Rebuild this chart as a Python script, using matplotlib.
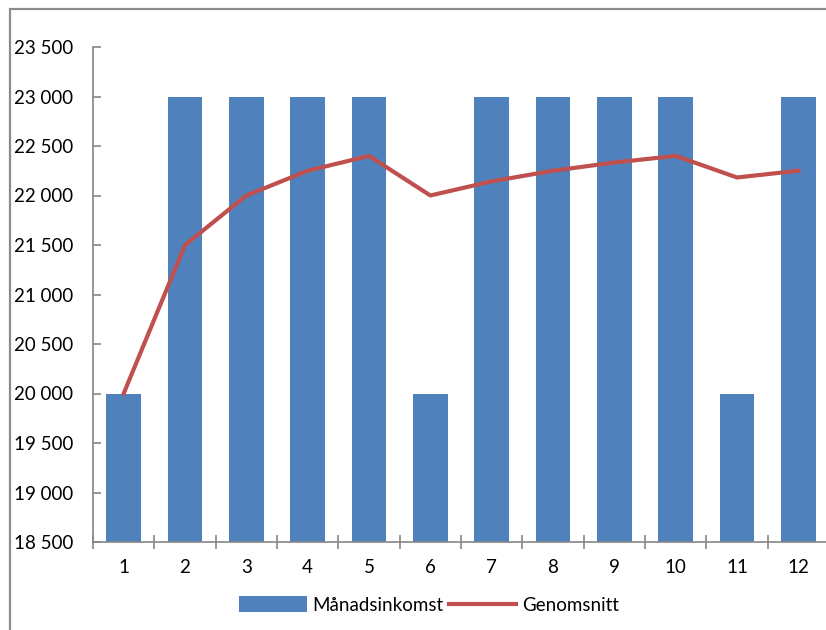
import matplotlib.pyplot as plt
from matplotlib.patches import Rectangle
import numpy as np

plt.rcParams["font.family"] = ["Lato", "DejaVu Sans"]

months = [str(m) for m in range(1, 13)]
income = [20000, 23000, 23000, 23000, 23000, 20000,
          23000, 23000, 23000, 23000, 20000, 23000]
average = [20000, 21500, 22000, 22250, 22400, 22000,
           22143, 22250, 22333, 22400, 22182, 22250]
yticks = [18500, 19000, 19500, 20000, 20500, 21000,
          21500, 22000, 22500, 23000, 23500]

blue = "#4F81BD"
red = "#C0504D"
axis_grey = "#868686"

fig = plt.figure(figsize=(8.26, 6.3), dpi=100)

# chart area frame
fig.patches.append(Rectangle((10 / 826, -0.05), 1.1, 1 - 9 / 630 + 0.05,
                             transform=fig.transFigure, fill=False,
                             edgecolor="#8C8C8C", linewidth=1.6))

ax = fig.add_axes([93 / 826, 1 - 542 / 630, 736 / 826, 495 / 630])
x = np.arange(len(months))
bars = ax.bar(x, income, width=0.57, color=blue, label="Månadsinkomst", zorder=2)
line, = ax.plot(x, average, color=red, linewidth=3, label="Genomsnitt", zorder=3)

ax.set_ylim(18500, 23500)
ax.set_xlim(-0.5, len(months) - 0.5)
ax.set_yticks(yticks)
ax.set_yticklabels([f"{v:,}".replace(",", " ") for v in yticks])
ax.set_xticks(x)
ax.set_xticklabels(months)
ax.set_xticks(np.arange(-0.5, len(months), 1), minor=True)

for side in ("top", "right"):
    ax.spines[side].set_visible(False)
for side in ("left", "bottom"):
    ax.spines[side].set_color(axis_grey)
    ax.spines[side].set_linewidth(1.2)

ax.tick_params(axis="y", direction="in", length=6, color=axis_grey,
               width=1.2, labelsize=13.5, pad=14)
ax.tick_params(axis="x", which="major", length=0, labelsize=13.5, pad=12)
ax.tick_params(axis="x", which="minor", direction="inout", length=10,
               color=axis_grey, width=1.2)

ax.legend([bars, line], ["Månadsinkomst", "Genomsnitt"], loc="center",
          bbox_to_anchor=((429 - 93) / 736, (542 - 605) / 495),
          ncol=2, frameon=False, fontsize=13.5, handlelength=3.6,
          handleheight=0.9, handletextpad=0.3, columnspacing=0.3)

fig.savefig("out.png", dpi=100)
